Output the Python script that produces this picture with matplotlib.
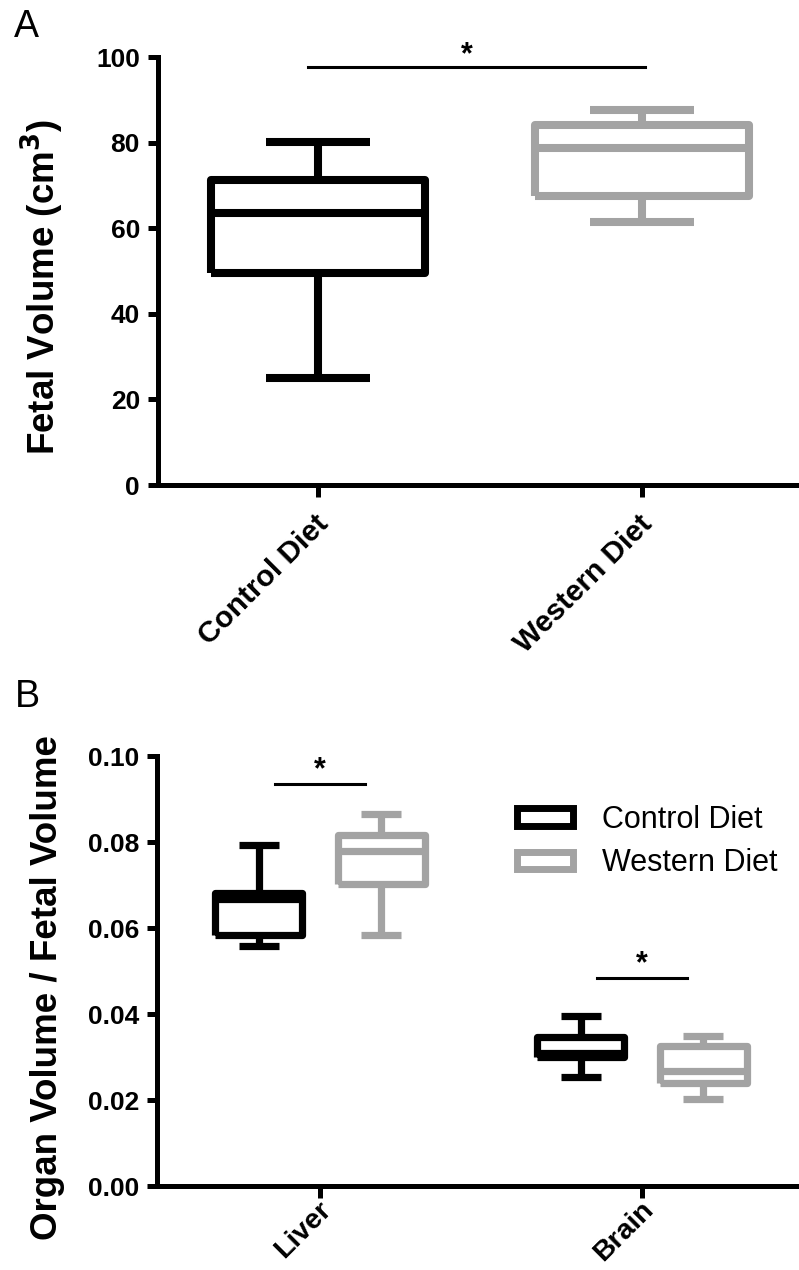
import matplotlib
matplotlib.use('Agg')
import matplotlib.pyplot as plt
from matplotlib.patches import Patch
from matplotlib.transforms import ScaledTranslation

plt.rcParams['font.family'] = ['Liberation Sans', 'DejaVu Sans']

BLACK = '#000000'
GREY = '#a3a3a3'

# Panel A - fetal volume (cm3)
groups_a = ['Control Diet', 'Western Diet']
a_whislo = [25.0, 61.5]
a_q1 = [49.5, 67.5]
a_med = [63.5, 78.8]
a_q3 = [71.2, 84.2]
a_whishi = [80.2, 87.6]
a_sig_y = 97.7

# Panel B - organ volume / fetal volume
organs = ['Liver', 'Brain']
diets = ['Control Diet', 'Western Diet']
ctrl_whislo = [0.0558, 0.0253]
ctrl_q1 = [0.0584, 0.0300]
ctrl_med = [0.0667, 0.0309]
ctrl_q3 = [0.0681, 0.0347]
ctrl_whishi = [0.0793, 0.0395]
west_whislo = [0.0584, 0.0202]
west_q1 = [0.0702, 0.0240]
west_med = [0.0779, 0.0267]
west_q3 = [0.0816, 0.0326]
west_whishi = [0.0865, 0.0349]
b_sig_y = [0.0935, 0.0484]


def make_stats(lo, q1, med, q3, hi):
    return [dict(whislo=l, q1=a, med=m, q3=b, whishi=h, fliers=[])
            for l, a, m, b, h in zip(lo, q1, med, q3, hi)]


def draw_box(ax, stats, pos, width, capw, color, lw):
    line = dict(color=color, linewidth=lw, solid_joinstyle='round', solid_capstyle='butt')
    ax.bxp(stats, positions=pos, widths=width, capwidths=capw, showfliers=False,
           boxprops=line, medianprops=line, whiskerprops=line, capprops=line)


def style_axes(ax, labels, size, dx, dy):
    for side in ['top', 'right']:
        ax.spines[side].set_visible(False)
    for side in ['left', 'bottom']:
        ax.spines[side].set_linewidth(3.6)
    ax.tick_params(axis='both', width=3.6, length=7, labelsize=19)
    ax.tick_params(axis='y', pad=6)
    ax.tick_params(axis='x', length=8.5)
    for lab in ax.get_yticklabels():
        lab.set_fontweight('bold')
    ax.set_xticklabels(labels, rotation=45, ha='right', rotation_mode='anchor',
                       fontsize=size, fontweight='bold')
    shift = ScaledTranslation(dx / 100, dy / 100, fig.dpi_scale_trans)
    for lab in ax.get_xticklabels():
        lab.set_transform(lab.get_transform() + shift)


fig = plt.figure(figsize=(7.99, 12.70), dpi=100)

# ---- Panel A
ax1 = fig.add_axes([0.1977, 0.6181, 0.7997, 0.3370])
stats_a = make_stats(a_whislo, a_q1, a_med, a_q3, a_whishi)
draw_box(ax1, stats_a[:1], [0], 0.66, 0.32, BLACK, 5.8)
draw_box(ax1, stats_a[1:], [1], 0.66, 0.32, GREY, 5.8)
ax1.set_xlim(-0.494, 1.478)
ax1.set_ylim(0, 100)
ax1.set_yticks([0, 20, 40, 60, 80, 100])
ax1.set_xticks([0, 1])
style_axes(ax1, groups_a, 21.5, -4, -8)
ax1.set_ylabel('Fetal Volume (cm$^\\mathbf{3}$)', fontsize=26.5, fontweight='bold')
ax1.yaxis.set_label_coords(-0.144, 0.462)
ax1.plot([-0.03, 1.01], [a_sig_y, a_sig_y], color=BLACK, lw=2.2, clip_on=False)
ax1.text(0.46, a_sig_y - 0.8, '*', ha='center', va='bottom', fontsize=22, fontweight='bold')

# ---- Panel B
ax2 = fig.add_axes([0.1965, 0.0661, 0.801, 0.3386])
xs = list(range(len(organs)))
off = 0.19
draw_box(ax2, make_stats(ctrl_whislo, ctrl_q1, ctrl_med, ctrl_q3, ctrl_whishi),
         [x - off for x in xs], 0.27, 0.124, BLACK, 5.2)
draw_box(ax2, make_stats(west_whislo, west_q1, west_med, west_q3, west_whishi),
         [x + off for x in xs], 0.27, 0.124, GREY, 5.2)
ax2.set_xlim(-0.506, 1.481)
ax2.set_ylim(0, 0.10)
ax2.set_yticks([0, 0.02, 0.04, 0.06, 0.08, 0.10])
ax2.set_yticklabels(['%.2f' % v for v in [0, 0.02, 0.04, 0.06, 0.08, 0.10]])
ax2.set_xticks(xs)
style_axes(ax2, organs, 20.5, -2, 6)
ax2.set_ylabel('Organ Volume / Fetal Volume', fontsize=26.5, fontweight='bold')
ax2.yaxis.set_label_coords(-0.143, 0.462)
for x, y in zip(xs, b_sig_y):
    ax2.plot([x - 0.14, x + 0.14], [y, y], color=BLACK, lw=2.2)
    ax2.text(x, y - 0.0004, '*', ha='center', va='bottom', fontsize=22, fontweight='bold')

handles = [Patch(facecolor='white', edgecolor=BLACK, linewidth=5, joinstyle='round'),
           Patch(facecolor='white', edgecolor=GREY, linewidth=5, joinstyle='round')]
ax2.legend(handles, diets, loc='upper left', bbox_to_anchor=(0.562, 0.886), frameon=False,
           fontsize=22, handlelength=1.85, handleheight=0.5, handletextpad=0.95,
           labelspacing=0.44, borderpad=0, borderaxespad=0)

fig.text(0.018, 1 - 27 / 1270, 'A', fontsize=27, va='center', ha='left')
fig.text(0.018, 1 - 697 / 1270, 'B', fontsize=27, va='center', ha='left')

fig.savefig('out.png', dpi=100)
